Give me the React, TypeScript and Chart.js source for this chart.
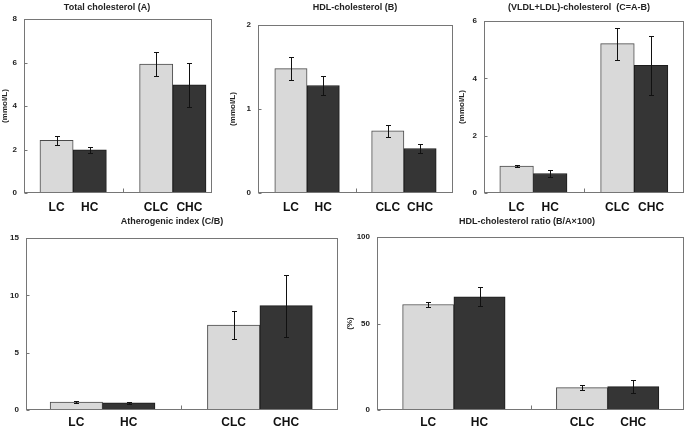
import { useEffect, useRef } from "react";
import { Chart, registerables } from "chart.js";

Chart.register(...registerables);
Chart.defaults.font.family = '"Liberation Sans", Arial, Helvetica, sans-serif';

// Diet groups and their position on the x axis (a gap is left at 2)
const GROUPS = ["LC", "HC", "CLC", "CHC"];
const GROUP_POS = [0, 1, 3, 4];
const DIVIDER_POS = 2;

// Means and SD, per group
const TOTAL_CHOL = [2.42, 1.98, 5.93, 4.97];
const TOTAL_CHOL_SD = [0.2, 0.12, 0.57, 1.0];

const HDL_CHOL = [1.48, 1.28, 0.74, 0.53];
const HDL_CHOL_SD = [0.14, 0.11, 0.07, 0.05];

const VLDL_LDL_CHOL = [0.94, 0.68, 5.21, 4.45];
const VLDL_LDL_CHOL_SD = [0.05, 0.11, 0.56, 1.02];

const ATHEROGENIC_INDEX = [0.7, 0.62, 7.4, 9.1];
const ATHEROGENIC_INDEX_SD = [0.05, 0.08, 1.25, 2.7];

const HDL_RATIO = [61.0, 65.4, 12.9, 13.5];
const HDL_RATIO_SD = [1.5, 5.5, 1.5, 3.7];

const LIGHT = "#d9d9d9";
const DARK = "#353535";
const FRAME = "#767676";

type Panel = {
  title: string;
  unit: string;
  values: number[];
  errors: number[];
  yMax: number;
  yStep: number;
  // canvas box on the page
  cx: number; cy: number; cw: number; ch: number;
  // plot frame on the page
  L: number; T: number; R: number; B: number;
  xMin: number; xMax: number;
  titleX: number; titleY: number;
  unitPad: number;
  labelPad: number;
};

const PANELS: Panel[] = [
  {
    title: "Total cholesterol (A)", unit: "(mmol/L)",
    values: TOTAL_CHOL, errors: TOTAL_CHOL_SD, yMax: 8, yStep: 2,
    cx: 0, cy: 0, cw: 226, ch: 215,
    L: 24, T: 19, R: 212, B: 193, xMin: -0.98, xMax: 4.68,
    titleX: 107, titleY: 8, unitPad: 0, labelPad: 7,
  },
  {
    title: "HDL-cholesterol (B)", unit: "(mmol/L)",
    values: HDL_CHOL, errors: HDL_CHOL_SD, yMax: 2, yStep: 1,
    cx: 226, cy: 0, cw: 229, ch: 215,
    L: 258, T: 25, R: 453, B: 193, xMin: -1.02, xMax: 5.02,
    titleX: 355, titleY: 8, unitPad: 2, labelPad: 7,
  },
  {
    title: "(VLDL+LDL)-cholesterol  (C=A-B)", unit: "(mmol/L)",
    values: VLDL_LDL_CHOL, errors: VLDL_LDL_CHOL_SD, yMax: 6, yStep: 2,
    cx: 455, cy: 0, cw: 234, ch: 215,
    L: 484, T: 21, R: 684, B: 193, xMin: -0.97, xMax: 4.98,
    titleX: 579, titleY: 8, unitPad: 2, labelPad: 7,
  },
  {
    title: "Atherogenic index (C/B)", unit: "",
    values: ATHEROGENIC_INDEX, errors: ATHEROGENIC_INDEX_SD, yMax: 15, yStep: 5,
    cx: 0, cy: 215, cw: 345, ch: 216,
    L: 26, T: 238, R: 338, B: 410, xMin: -0.96, xMax: 4.99,
    titleX: 172, titleY: 222, unitPad: 0, labelPad: 5,
  },
  {
    title: "HDL-cholesterol ratio (B/A\u00d7100)", unit: "(%)",
    values: HDL_RATIO, errors: HDL_RATIO_SD, yMax: 100, yStep: 50,
    cx: 345, cy: 215, cw: 344, ch: 216,
    L: 377, T: 237, R: 684, B: 410, xMin: -1.0, xMax: 4.99,
    titleX: 527, titleY: 222, unitPad: 0, labelPad: 5,
  },
];

// Frame, inward ticks, error bars and the panel heading
function decorPlugin(p: Panel) {
  return {
    id: "panelDecor",
    afterDatasetsDraw(chart: any) {
      const { ctx, chartArea: a, scales } = chart;
      const x = scales.x;
      const y = scales.y;
      ctx.save();

      // error bars
      const meta = chart.getDatasetMeta(0);
      ctx.strokeStyle = "#111";
      ctx.lineWidth = 1;
      meta.data.forEach((bar: any, i: number) => {
        const m = p.values[i];
        const e = p.errors[i];
        const px = Math.round(bar.x) + 0.5;
        const yt = Math.round(y.getPixelForValue(m + e)) + 0.5;
        const yb = Math.round(y.getPixelForValue(m - e)) + 0.5;
        ctx.beginPath();
        ctx.moveTo(px, yt);
        ctx.lineTo(px, yb);
        ctx.moveTo(px - 2.5, yt);
        ctx.lineTo(px + 2.5, yt);
        ctx.moveTo(px - 2.5, yb);
        ctx.lineTo(px + 2.5, yb);
        ctx.stroke();
      });

      // plot frame
      ctx.strokeStyle = FRAME;
      ctx.lineWidth = 1;
      const l = Math.round(a.left) + 0.5;
      const t = Math.round(a.top) + 0.5;
      const r = Math.round(a.right) - 0.5;
      const b = Math.round(a.bottom) - 0.5;
      ctx.strokeRect(l, t, r - l, b - t);

      // inward y ticks
      ctx.beginPath();
      y.ticks.forEach((tk: any) => {
        const py = Math.round(y.getPixelForValue(tk.value)) + 0.5;
        ctx.moveTo(l, py);
        ctx.lineTo(l + 3, py);
      });
      // divider tick between the two diet pairs
      const dx = Math.round(x.getPixelForValue(DIVIDER_POS)) + 0.5;
      ctx.moveTo(dx, b);
      ctx.lineTo(dx, b - 4);
      ctx.stroke();

      // heading
      ctx.fillStyle = "#222";
      ctx.font = 'bold 9px "Liberation Sans", Arial, sans-serif';
      ctx.textAlign = "center";
      ctx.textBaseline = "middle";
      ctx.fillText(p.title, p.titleX - p.cx, p.titleY - p.cy);
      ctx.restore();
    },
  };
}

function PanelChart({ p }: { p: Panel }) {
  const ref = useRef<HTMLCanvasElement>(null);

  useEffect(() => {
    if (!ref.current) return;
    const chart = new Chart(ref.current, {
      type: "bar",
      data: {
        datasets: [
          {
            data: GROUP_POS.map((gx, i) => ({ x: gx, y: p.values[i] })),
            backgroundColor: [LIGHT, DARK, LIGHT, DARK],
            borderColor: ["#4a4a4a", "#1c1c1c", "#4a4a4a", "#1c1c1c"],
            borderWidth: 1,
            categoryPercentage: 1,
            barPercentage: 1,
          },
        ],
      },
      options: {
        responsive: false,
        animation: false,
        events: [],
        layout: {
          padding: { left: 0, top: p.T - p.cy, right: p.cx + p.cw - p.R, bottom: 0 },
        },
        plugins: { legend: { display: false }, title: { display: false }, tooltip: { enabled: false } },
        scales: {
          x: {
            type: "linear",
            min: p.xMin,
            max: p.xMax,
            bounds: "data",
            offset: false,
            grid: { display: false, drawTicks: false },
            border: { display: false },
            afterBuildTicks: (s: any) => {
              s.ticks = GROUP_POS.map((v) => ({ value: v }));
            },
            afterFit: (s: any) => {
              s.height = p.cy + p.ch - p.B;
            },
            ticks: {
              autoSkip: false,
              maxRotation: 0,
              minRotation: 0,
              padding: p.labelPad,
              color: "#111",
              font: { size: 12, weight: "bold" },
              callback: (v: any) => {
                const i = GROUP_POS.indexOf(Number(v));
                return i >= 0 ? GROUPS[i] : "";
              },
            },
          },
          y: {
            min: 0,
            max: p.yMax,
            grid: { display: false, drawTicks: false },
            border: { display: false },
            afterFit: (s: any) => {
              s.width = p.L - p.cx;
            },
            ticks: {
              stepSize: p.yStep,
              padding: 7,
              color: "#222",
              font: { size: 8, weight: "bold" },
            },
            title: {
              display: p.unit !== "",
              text: p.unit,
              color: "#222",
              font: { size: 8, weight: "bold" },
              padding: { top: p.unitPad, bottom: 0 },
            },
          },
        },
      } as any,
      plugins: [decorPlugin(p)],
    });
    return () => chart.destroy();
  }, [p]);

  return (
    <canvas
      ref={ref}
      width={p.cw}
      height={p.ch}
      style={{ position: "absolute", left: p.cx, top: p.cy, width: p.cw, height: p.ch }}
    />
  );
}

export default function App() {
  return (
    <div
      style={{
        position: "absolute",
        left: 0,
        top: 0,
        width: 689,
        height: 431,
        background: "#ffffff",
        overflow: "hidden",
      }}
    >
      {PANELS.map((p) => (
        <PanelChart key={p.title} p={p} />
      ))}
    </div>
  );
}
